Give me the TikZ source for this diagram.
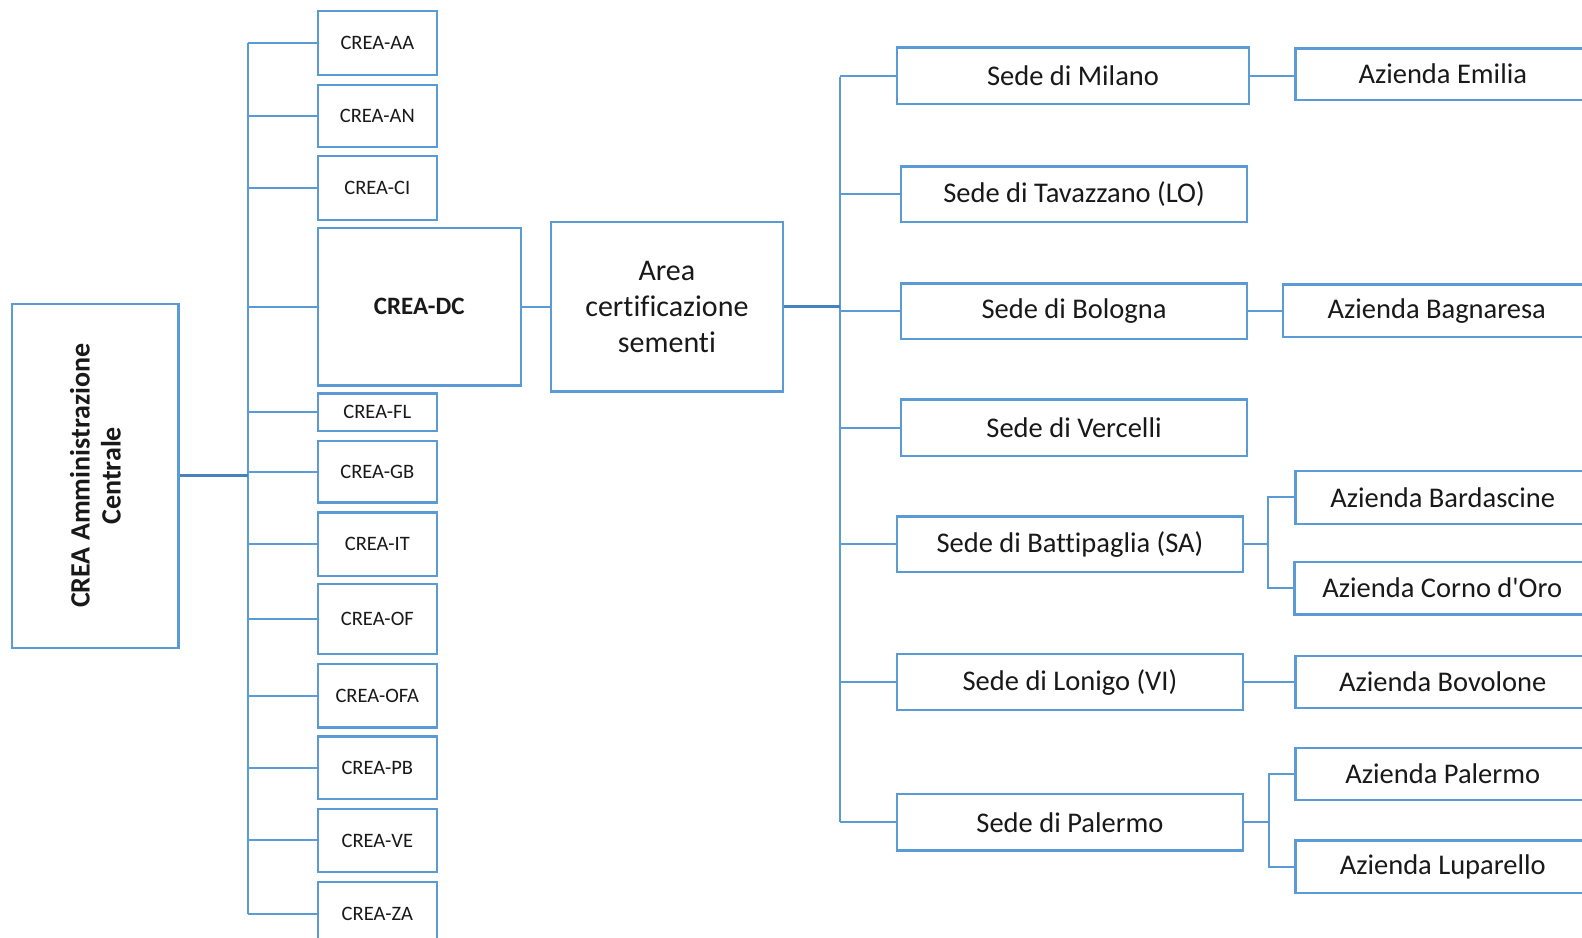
\documentclass[tikz,border=0pt]{standalone}
\usepackage{fontspec}
\usepackage{graphicx}
\setmainfont{Carlito}[Ligatures={NoCommon}]
\definecolor{lineblue}{RGB}{91,155,213}
\definecolor{darkblue}{RGB}{70,130,190}
\definecolor{txt}{RGB}{25,25,25}
\tikzset{
  orgbox/.style={draw=lineblue, line width=2.2pt, rectangle, inner sep=0pt, text=txt, align=center},
  wd/.style={minimum width=#1*1.0089pt},
  ht/.style={minimum height=#1*1.0089pt},
  small/.style={font=\fontsize{20.5}{24}\selectfont},
  big/.style={font=\fontsize{28.5}{34}\selectfont},
  conn/.style={draw=lineblue, line width=2pt},
  thickconn/.style={draw=darkblue, line width=3pt},
}
\begin{document}
\begin{tikzpicture}[x=1.0089pt, y=-1.0089pt]
\useasboundingbox (0,0) rectangle (1568,929);
\clip (0,0) rectangle (1568,929);
\fill[white] (0,0) rectangle (1568,929);

% root
\node[orgbox, wd=165, ht=341] (root) at (94.5,471.5)
  {\rotatebox{90}{\parbox{320pt}{\centering\fontsize{28}{31}\selectfont\bfseries CREA Amministrazione\\Centrale}}};

% CREA column
\node[orgbox, small, wd=118, ht=63] (aa) at (374,42.5) {CREA-AA};
\node[orgbox, small, wd=118, ht=62] (an) at (374,115) {CREA-AN};
\node[orgbox, small, wd=118, ht=63] (ci) at (374,186.5) {CREA-CI};
\node[orgbox, wd=201, ht=156, font=\fontsize{25}{30}\selectfont\bfseries] (dc) at (415.5,304) {CREA-DC};
\node[orgbox, small, wd=118, ht=37] (fl) at (374,408.5) {CREA-FL};
\node[orgbox, small, wd=118, ht=61] (gb) at (374,467.5) {CREA-GB};
\node[orgbox, small, wd=118, ht=63] (it) at (374,539.5) {CREA-IT};
\node[orgbox, small, wd=118, ht=69] (of) at (374,613.5) {CREA-OF};
\node[orgbox, small, wd=118, ht=63] (ofa) at (374,689.5) {CREA-OFA};
\node[orgbox, small, wd=118, ht=62] (pb) at (374,761) {CREA-PB};
\node[orgbox, small, wd=118, ht=62] (ve) at (374,833) {CREA-VE};
\node[orgbox, small, wd=118, ht=63] (za) at (374,905.5) {CREA-ZA};

% trunk 1
\coordinate (t1a) at (246,43);
\coordinate (t1b) at (246,906);
\draw[conn] (t1a) -- (t1b);
\draw[thickconn] (root.east) -- (root.east -| t1a);
\foreach \n in {aa,an,ci,dc,fl,gb,it,of,ofa,pb,ve,za}
  \draw[conn] (\n.west) -- (\n.west -| t1a);

% Area
\node[orgbox, wd=230, ht=168, font=\fontsize{30}{36}\selectfont] (area) at (661,304) {Area\\certificazione\\sementi};
\draw[conn] (dc.east) -- (area.west);

% trunk 2
\coordinate (t2a) at (833,76);
\coordinate (t2b) at (833,815);
\draw[conn] (t2a) -- (t2b);
\draw[thickconn] (area.east) -- (area.east -| t2a);

% Sedi
\node[orgbox, big, wd=349, ht=56] (mil) at (1063.5,75) {Sede di Milano};
\node[orgbox, big, wd=343, ht=55] (tav) at (1064.5,192.5) {Sede di Tavazzano (LO)};
\node[orgbox, big, wd=343, ht=55] (bol) at (1064.5,308.5) {Sede di Bologna};
\node[orgbox, big, wd=343, ht=56] (ver) at (1064.5,424) {Sede di Vercelli};
\node[orgbox, big, wd=343, ht=55] (bat) at (1060.5,539.5) {Sede di Battipaglia (SA)};
\node[orgbox, big, wd=343, ht=56] (lon) at (1060.5,676) {Sede di Lonigo (VI)};
\node[orgbox, big, wd=343, ht=56] (pal) at (1060.5,815) {Sede di Palermo};
\foreach \n in {mil,tav,bol,ver,bat,lon,pal}
  \draw[conn] (\n.west) -- (\n.west -| t2a);

% Aziende
\node[orgbox, big, wd=292, ht=51] (emi) at (1430,73.5) {Azienda Emilia};
\node[orgbox, big, wd=304, ht=52] (bag) at (1424,308) {Azienda Bagnaresa};
\node[orgbox, big, wd=292, ht=52] (bar) at (1430,493) {Azienda Bardascine};
\node[orgbox, big, wd=293, ht=52] (cor) at (1429.5,583) {Azienda Corno d\textquotesingle Oro};
\node[orgbox, big, wd=292, ht=52] (bov) at (1430,676) {Azienda Bovolone};
\node[orgbox, big, wd=292, ht=52] (apa) at (1430,767) {Azienda Palermo};
\node[orgbox, big, wd=292, ht=52] (lup) at (1430,859) {Azienda Luparello};

\draw[conn] (mil.east) -- (mil.east -| emi.west);
\draw[conn] (bol.east) -- (bol.east -| bag.west);
\draw[conn] (lon.east) -- (lon.east -| bov.west);

\coordinate (bj) at (1257,539.5);
\draw[conn] (bat.east) -- (bj);
\draw[conn] (bar.west) -| (bj) |- (cor.west);

\coordinate (pj) at (1258,815);
\draw[conn] (pal.east) -- (pj);
\draw[conn] (apa.west) -| (pj) |- (lup.west);
\end{tikzpicture}
\end{document}
